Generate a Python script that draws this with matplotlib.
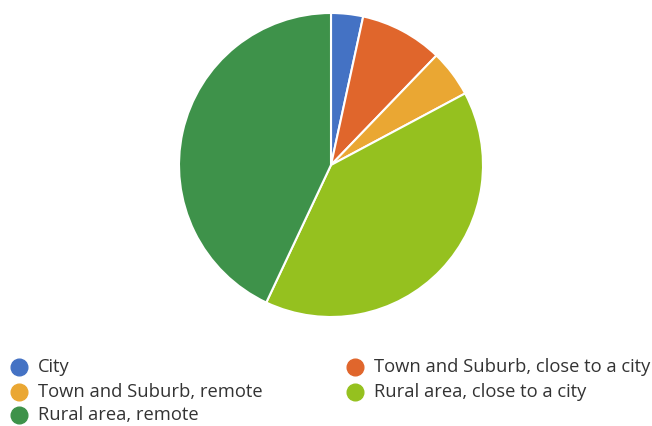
import matplotlib.pyplot as plt
from matplotlib.lines import Line2D

# Доли по типам местности (в процентах)
labels = ['City', 'Town and Suburb, close to a city', 'Town and Suburb, remote',
          'Rural area, close to a city', 'Rural area, remote']
values = [3.4, 8.8, 5.0, 39.8, 43.0]
colors = ['#4472c4', '#e0662c', '#eaa733', '#95c11f', '#3e924a']

plt.rcParams['font.family'] = ['Open Sans', 'DejaVu Sans']

fig = plt.figure(figsize=(6.52, 4.26), dpi=100)
ax = fig.add_axes([179 / 652, 1 - 317 / 426, 304 / 652, 304 / 426])
ax.pie(values, colors=colors, startangle=90, counterclock=False,
       wedgeprops={'edgecolor': 'white', 'linewidth': 1.5}, radius=1.0)
ax.set_xlim(-1, 1)
ax.set_ylim(-1, 1)
ax.set_aspect('equal')
ax.axis('off')

# Легенда в два столбца, порядок по строкам
positions = [(19, 367), (355, 367), (19, 392), (355, 392), (19, 415)]
for (x, y), lab, col in zip(positions, labels, colors):
    fig.add_artist(Line2D([x / 652], [1 - y / 426], marker='o', markersize=12,
                          color=col, linestyle='none', transform=fig.transFigure))
    fig.text((x + 19) / 652, 1 - y / 426, lab, fontsize=13.2, color='#333333',
             va='center', ha='left')

fig.savefig('out.png', dpi=100)
